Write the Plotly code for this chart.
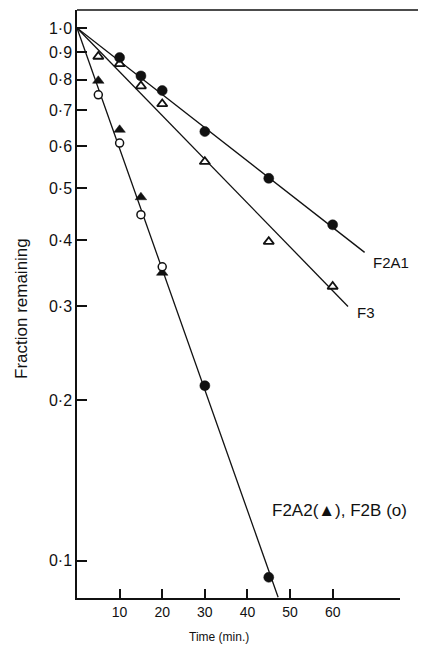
import plotly.graph_objects as go

# ---- data ----
time_f2a1 = [10, 15, 20, 30, 45, 60]
frac_f2a1 = [0.880, 0.813, 0.763, 0.639, 0.522, 0.427]

time_f3 = [5, 10, 15, 20, 30, 45, 60]
frac_f3 = [0.884, 0.856, 0.778, 0.720, 0.561, 0.397, 0.327]

time_f2a2 = [5, 10, 15, 20, 30, 45]
frac_f2a2 = [0.796, 0.644, 0.481, 0.347, 0.213, 0.093]
sym_f2a2 = ["triangle-up", "triangle-up", "triangle-up", "triangle-up", "circle", "circle"]

time_f2b = [5, 10, 15, 20]
frac_f2b = [0.749, 0.608, 0.446, 0.356]

fit_f2a1_x = [0, 67.5]
fit_f2a1_y = [1.0, 0.379]
fit_f3_x = [0, 63.6]
fit_f3_y = [1.0, 0.300]
fit_f2a2_x = [0, 47.2]
fit_f2a2_y = [1.0, 0.0853]

y_tickvals = [1.0, 0.9, 0.8, 0.7, 0.6, 0.5, 0.4, 0.3, 0.2, 0.1]
y_ticktext = ["1·0", "0·9", "0·8", "0·7", "0·6", "0·5", "0·4", "0·3", "0·2", "0·1"]
x_tickvals = [10, 20, 30, 40, 50, 60]
x_ticktext = ["10", "20", "30", "40", "50", "60"]

FONT = "Liberation Sans, Arial, Helvetica, sans-serif"
BLACK = "#111111"

# page has an 8px body margin; compensate so the plot lands where the reference has it
OFF = 8
W, H = 426 - OFF, 645 - OFF
L, R, T, B = 77 - OFF, 26, 10 - OFF, 47
pw, ph = W - L - R, H - T - B


def px_to_paper(xp, yp):
    return (xp - OFF - L) / pw, 1 - (yp - OFF - T) / ph


fig = go.Figure()

for fx, fy in [(fit_f2a1_x, fit_f2a1_y), (fit_f3_x, fit_f3_y), (fit_f2a2_x, fit_f2a2_y)]:
    fig.add_trace(go.Scatter(x=fx, y=fy, mode="lines",
                             line=dict(color=BLACK, width=1.3),
                             showlegend=False, hoverinfo="skip"))

fig.add_trace(go.Scatter(x=time_f3, y=frac_f3, mode="markers",
                         marker=dict(symbol="triangle-up", size=9, color="white",
                                     line=dict(color=BLACK, width=1.8)),
                         showlegend=False))
fig.add_trace(go.Scatter(x=time_f2a1, y=frac_f2a1, mode="markers",
                         marker=dict(symbol="circle", size=10, color=BLACK,
                                     line=dict(color=BLACK, width=0.5)),
                         showlegend=False))
fig.add_trace(go.Scatter(x=time_f2a2, y=frac_f2a2, mode="markers",
                         marker=dict(symbol=sym_f2a2, size=10, color=BLACK,
                                     line=dict(color=BLACK, width=0.5)),
                         showlegend=False))
fig.add_trace(go.Scatter(x=time_f2b, y=frac_f2b, mode="markers",
                         marker=dict(symbol="circle", size=8, color="white",
                                     line=dict(color=BLACK, width=1.5)),
                         showlegend=False))

yt_x, yt_y = px_to_paper(21, 309)
xt_x, xt_y = px_to_paper(219, 637)

fig.update_layout(
    width=W, height=H,
    margin=dict(l=L, r=R, t=T, b=B),
    paper_bgcolor="white", plot_bgcolor="white",
    font=dict(family=FONT, color=BLACK),
    xaxis=dict(range=[0, 75.8], showgrid=False, zeroline=False,
               showline=True, linecolor=BLACK, linewidth=1.5,
               ticks="inside", ticklen=9, tickwidth=1.5, tickcolor=BLACK,
               tickvals=x_tickvals, ticktext=x_ticktext,
               tickfont=dict(size=14, family=FONT, color=BLACK)),
    yaxis=dict(type="log", range=[-1.0704, 0.0338], showgrid=False, zeroline=False,
               showline=True, linecolor=BLACK, linewidth=1.5,
               ticks="inside", ticklen=10, tickwidth=1.5, tickcolor=BLACK,
               tickvals=y_tickvals, ticktext=y_ticktext,
               tickfont=dict(size=16, family=FONT, color=BLACK)),
    shapes=[dict(type="line", xref="paper", yref="paper", x0=0, x1=1.1, y0=1, y1=1,
                 line=dict(color=BLACK, width=1.5))],
    annotations=[
        dict(text="F2A1", x=73.7, y=-0.441, xref="x", yref="y", showarrow=False,
             xanchor="center", yanchor="middle",
             font=dict(size=15, family=FONT, color=BLACK)),
        dict(text="F3", x=67.9, y=-0.534, xref="x", yref="y", showarrow=False,
             xanchor="center", yanchor="middle",
             font=dict(size=15, family=FONT, color=BLACK)),
        dict(text="F2A2(▲), F2B (o)", x=61.6, y=-0.906, xref="x", yref="y", showarrow=False,
             xanchor="center", yanchor="middle",
             font=dict(size=17, family=FONT, color=BLACK)),
        dict(text="Fraction remaining", x=yt_x, y=yt_y, xref="paper", yref="paper",
             showarrow=False, textangle=-90, xanchor="center", yanchor="middle",
             font=dict(size=17, family=FONT, color=BLACK)),
        dict(text="Time (min.)", x=xt_x, y=xt_y, xref="paper", yref="paper",
             showarrow=False, xanchor="center", yanchor="middle",
             font=dict(size=12, family=FONT, color=BLACK)),
    ],
)

fig.write_html("out.html")
